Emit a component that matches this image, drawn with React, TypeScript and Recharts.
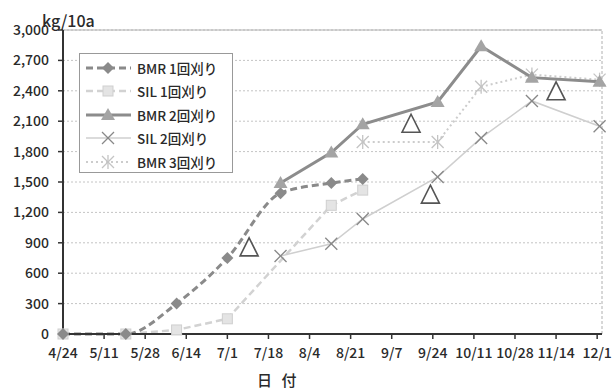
import { LineChart, Line, XAxis, YAxis, CartesianGrid, ReferenceLine } from 'recharts';

// dates are read as M/D and turned into days after 4/24
const xTickLabels = ['4/24', '5/11', '5/28', '6/14', '7/1', '7/18', '8/4', '8/21', '9/7', '9/24', '10/11', '10/28', '11/14', '12/1'];
const yTicks = [0, 300, 600, 900, 1200, 1500, 1800, 2100, 2400, 2700, 3000];

const bmr1Dates = ['4/24', '5/20', '6/10', '7/1', '7/23', '8/13', '8/26'];
const bmr1Values = [0, 0, 300, 750, 1390, 1490, 1530];

const sil1Dates = ['4/24', '5/20', '6/10', '7/1', '8/13', '8/26'];
const sil1Values = [0, 0, 40, 150, 1270, 1420];

const bmr2Dates = ['7/23', '8/13', '8/26', '9/26', '10/14', '11/4', '12/2'];
const bmr2Values = [1490, 1790, 2070, 2290, 2840, 2530, 2490];

const sil2Dates = ['7/23', '8/13', '8/26', '9/26', '10/14', '11/4', '12/2'];
const sil2Values = [770, 890, 1135, 1550, 1935, 2300, 2050];

const bmr3Dates = ['8/26', '9/26', '10/14', '11/4', '12/2'];
const bmr3Values = [1895, 1895, 2440, 2560, 2510];

// open triangles (no legend entry)
const markDates = ['7/10', '9/15', '9/23', '11/14'];
const markValues = [850, 2070, 1370, 2390];

const BASE = Date.UTC(2000, 3, 24);
const day = (md: string) => {
  const [m, d] = md.split('/').map(Number);
  return Math.round((Date.UTC(2000, m - 1, d) - BASE) / 86400000);
};
const toRows = (dates: string[], values: number[]) => dates.map((s, i) => ({ d: day(s), v: values[i] }));

const xTicks = xTickLabels.map(day);
const font = '"Noto Sans CJK JP", "Noto Sans", sans-serif';
const textColor = '#2a2a2a';

const Diamond = ({ cx, cy, fill }: any) => (
  <polygon points={`${cx},${cy - 6} ${cx + 6},${cy} ${cx},${cy + 6} ${cx - 6},${cy}`} fill={fill} />
);
const Square = ({ cx, cy, fill, stroke }: any) => (
  <rect x={cx - 5} y={cy - 5} width={10} height={10} fill={fill} stroke={stroke} strokeWidth={1} />
);
const Tri = ({ cx, cy, fill }: any) => (
  <polygon points={`${cx},${cy - 7} ${cx + 7},${cy + 5} ${cx - 7},${cy + 5}`} fill={fill} />
);
const Cross = ({ cx, cy, stroke }: any) => (
  <g stroke={stroke} strokeWidth={1.3}>
    <line x1={cx - 6} y1={cy - 6} x2={cx + 6} y2={cy + 6} />
    <line x1={cx - 6} y1={cy + 6} x2={cx + 6} y2={cy - 6} />
  </g>
);
const Star = ({ cx, cy, stroke }: any) => (
  <g stroke={stroke} strokeWidth={1.3}>
    <line x1={cx - 6} y1={cy - 6} x2={cx + 6} y2={cy + 6} />
    <line x1={cx - 6} y1={cy + 6} x2={cx + 6} y2={cy - 6} />
    <line x1={cx} y1={cy - 7} x2={cx} y2={cy + 7} />
  </g>
);
const OpenTri = ({ cx, cy }: any) => (
  <polygon points={`${cx},${cy - 10} ${cx + 9},${cy + 8} ${cx - 9},${cy + 8}`} fill="#fff" stroke="#555" strokeWidth={1.6} />
);

const dot = (Comp: any, extra: any) => (p: any) =>
  p.cx == null ? <g key={p.index} /> : <Comp key={p.index} cx={p.cx} cy={p.cy} {...extra} />;

const legendItems = [
  { name: 'BMR 1回刈り', stroke: '#8a8a8a', width: 3, dash: '7 4', Marker: Diamond, m: { fill: '#8a8a8a' } },
  { name: 'SIL 1回刈り', stroke: '#d2d2d2', width: 2.5, dash: '7 4', Marker: Square, m: { fill: '#e4e4e4', stroke: '#cfcfcf' } },
  { name: 'BMR 2回刈り', stroke: '#8c8c8c', width: 3, dash: undefined, Marker: Tri, m: { fill: '#a4a4a4' } },
  { name: 'SIL 2回刈り', stroke: '#cfcfcf', width: 1.5, dash: undefined, Marker: Cross, m: { stroke: '#888' } },
  { name: 'BMR 3回刈り', stroke: '#cccccc', width: 2, dash: '2 3', Marker: Star, m: { stroke: '#c4c4c4' } },
];

const tickStyle = { fill: textColor, fontSize: 14, fontFamily: font, fontWeight: 500 };

export default function App() {
  return (
    <div style={{ position: 'absolute', left: 0, top: 0, width: 612, height: 389, background: '#fff', fontFamily: font }}>
      <LineChart width={612} height={389} margin={{ top: 30, right: 10, left: 0, bottom: 25 }}>
        <CartesianGrid vertical={false} stroke="#c4c4c4" strokeDasharray="2 2" />
        <XAxis
          dataKey="d"
          type="number"
          domain={[0, 223]}
          ticks={xTicks}
          tickFormatter={(v: number) => xTickLabels[xTicks.indexOf(v)] ?? ''}
          height={30}
          tickSize={5}
          tickMargin={9}
          interval={0}
          axisLine={{ stroke: '#333', strokeWidth: 2 }}
          tickLine={{ stroke: '#333', strokeWidth: 1.5 }}
          tick={tickStyle}
        />
        <YAxis
          type="number"
          domain={[0, 3000]}
          ticks={yTicks}
          width={63}
          tickSize={5}
          tickMargin={9}
          interval={0}
          tickFormatter={(v: number) => v.toLocaleString('en-US')}
          axisLine={{ stroke: '#333', strokeWidth: 2 }}
          tickLine={{ stroke: '#333', strokeWidth: 1.5 }}
          tick={tickStyle}
        />
        <ReferenceLine x={223} stroke="#b0b0b0" strokeDasharray="3 2" />
        <ReferenceLine y={3000} stroke="#b0b0b0" />
        <Line data={toRows(sil1Dates, sil1Values)} dataKey="v" type="linear" stroke="#d2d2d2" strokeWidth={2.5} strokeDasharray="7 4" dot={dot(Square, { fill: '#e4e4e4', stroke: '#cfcfcf' })} isAnimationActive={false} />
        <Line data={toRows(bmr1Dates, bmr1Values)} dataKey="v" type="monotone" stroke="#8a8a8a" strokeWidth={3} strokeDasharray="7 4" dot={dot(Diamond, { fill: '#8a8a8a' })} isAnimationActive={false} />
        <Line data={toRows(sil2Dates, sil2Values)} dataKey="v" type="linear" stroke="#cfcfcf" strokeWidth={1.5} dot={dot(Cross, { stroke: '#888' })} isAnimationActive={false} />
        <Line data={toRows(bmr3Dates, bmr3Values)} dataKey="v" type="linear" stroke="#cccccc" strokeWidth={2} strokeDasharray="2 3" dot={dot(Star, { stroke: '#c4c4c4' })} isAnimationActive={false} />
        <Line data={toRows(bmr2Dates, bmr2Values)} dataKey="v" type="linear" stroke="#8c8c8c" strokeWidth={3} dot={dot(Tri, { fill: '#a4a4a4' })} isAnimationActive={false} />
        <Line data={toRows(markDates, markValues)} dataKey="v" stroke="none" legendType="none" dot={dot(OpenTri, {})} isAnimationActive={false} />
      </LineChart>

      <div style={{ position: 'absolute', left: 42, top: 10, fontSize: 16, color: textColor, fontWeight: 500, lineHeight: '20px' }}>kg/10a</div>
      <div style={{ position: 'absolute', left: 257, top: 369, fontSize: 15, color: textColor, fontWeight: 500, letterSpacing: 3 }}>日 付</div>

      <div style={{ position: 'absolute', left: 79, top: 53, width: 154, height: 120, border: '1px solid #999', background: '#fff', boxSizing: 'border-box', padding: '2px 0 0 6px' }}>
        {legendItems.map((it) => (
          <div key={it.name} style={{ display: 'flex', alignItems: 'center', height: 23.5 }}>
            <svg width={45} height={16}>
              <line x1={0} y1={8} x2={45} y2={8} stroke={it.stroke} strokeWidth={it.width} strokeDasharray={it.dash} />
              <it.Marker cx={22} cy={8} {...it.m} />
            </svg>
            <span style={{ fontSize: 13.5, color: textColor, marginLeft: 6, whiteSpace: 'nowrap', fontWeight: 500 }}>{it.name}</span>
          </div>
        ))}
      </div>
    </div>
  );
}
